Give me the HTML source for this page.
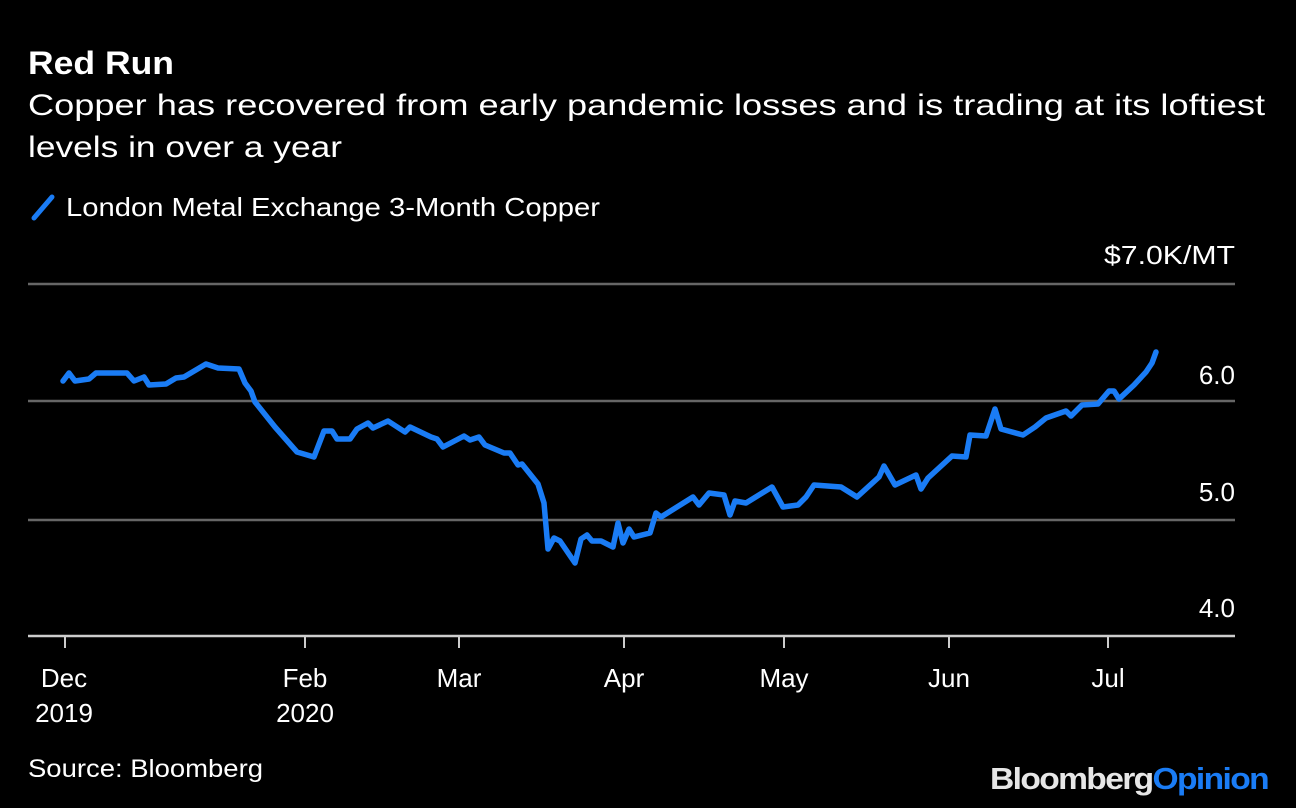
<!DOCTYPE html>
<html><head><meta charset="utf-8"><style>
html,body{margin:0;padding:0;background:#000;}
body{width:1296px;height:808px;overflow:hidden;}
svg{display:block}
text{font-family:"Liberation Sans",Arial,sans-serif;fill:#fff}
</style></head><body>
<svg width="1296" height="808" viewBox="0 0 1296 808">
<rect width="1296" height="808" fill="#000"/>
<text x="28" y="74" font-size="32" font-weight="bold" textLength="146" lengthAdjust="spacingAndGlyphs">Red Run</text>
<text x="28" y="115" font-size="30" textLength="1237" lengthAdjust="spacingAndGlyphs">Copper has recovered from early pandemic losses and is trading at its loftiest</text>
<text x="28" y="157" font-size="30" textLength="314" lengthAdjust="spacingAndGlyphs">levels in over a year</text>
<line x1="34" y1="218" x2="52" y2="197" stroke="#1a7cf5" stroke-width="5" stroke-linecap="round"/>
<text x="66" y="216" font-size="26" textLength="534" lengthAdjust="spacingAndGlyphs">London Metal Exchange 3-Month Copper</text>
<text x="1235" y="264" font-size="26" text-anchor="end" textLength="131" lengthAdjust="spacingAndGlyphs">$7.0K/MT</text>
<g stroke="#666" stroke-width="2.5">
<line x1="28" y1="284" x2="1235" y2="284"/>
<line x1="28" y1="401" x2="1235" y2="401"/>
<line x1="28" y1="520" x2="1235" y2="520"/>
</g>
<line x1="28" y1="636" x2="1235" y2="636" stroke="#ccc" stroke-width="2.5"/>
<g font-size="26" text-anchor="end">
<text x="1235" y="384">6.0</text>
<text x="1235" y="501">5.0</text>
<text x="1235" y="617">4.0</text>
</g>
<g stroke="#ccc" stroke-width="2">
<line x1="65" y1="636" x2="65" y2="648"/><line x1="305" y1="636" x2="305" y2="648"/>
<line x1="459" y1="636" x2="459" y2="648"/><line x1="624" y1="636" x2="624" y2="648"/>
<line x1="784" y1="636" x2="784" y2="648"/><line x1="949" y1="636" x2="949" y2="648"/>
<line x1="1108" y1="636" x2="1108" y2="648"/>
</g>
<g font-size="26" text-anchor="middle">
<text x="64" y="687">Dec</text><text x="64" y="722">2019</text>
<text x="305" y="687">Feb</text><text x="305" y="722">2020</text>
<text x="459" y="687">Mar</text><text x="624" y="687">Apr</text>
<text x="784" y="687">May</text><text x="949" y="687">Jun</text><text x="1108" y="687">Jul</text>
</g>
<text x="28" y="777" font-size="25" textLength="235" lengthAdjust="spacingAndGlyphs">Source: Bloomberg</text>
<text x="1268" y="789" font-size="31" font-weight="bold" text-anchor="end" letter-spacing="-1.5" textLength="278" lengthAdjust="spacingAndGlyphs"><tspan fill="#e6e6e6">Bloomberg</tspan><tspan fill="#1a7cf5">Opinion</tspan></text>
<polyline fill="none" stroke="#1a7cf5" stroke-width="5.5" stroke-linejoin="round" stroke-linecap="round" points="63,381 69,373 75,381 89,379 96,373 127,373 134,381 144,377 149,385 166,384 176,378 184,377 206,364 218,368 239,369 245,383 251,391 255,402 275,427 297,452 314,457 324,431 332,431 337,439 350,439 357,429 368,423 373,428 388,421 405,432 410,427 431,437 437,439 443,447 464,436 470,440 479,437 485,445 504,453 510,453 518,465 522,464 538,484 544,503 548,549 554,538 560,541 575,563 581,539 587,535 592,541 601,541 613,547 618,523 623,543 629,529 634,537 650,533 656,513 661,517 693,497 699,505 709,493 724,495 730,515 735,501 746,503 772,487 783,507 798,505 806,497 814,485 841,487 857,497 879,477 884,466 895,485 916,475 921,489 928,478 952,456 966,457 970,435 986,436 995,409 1001,429 1023,435 1035,427 1046,418 1066,411 1071,416 1082,405 1098,404 1109,391 1114,391 1119,399 1134,385 1146,372 1152,363 1156,352"/>
</svg>
</body></html>
